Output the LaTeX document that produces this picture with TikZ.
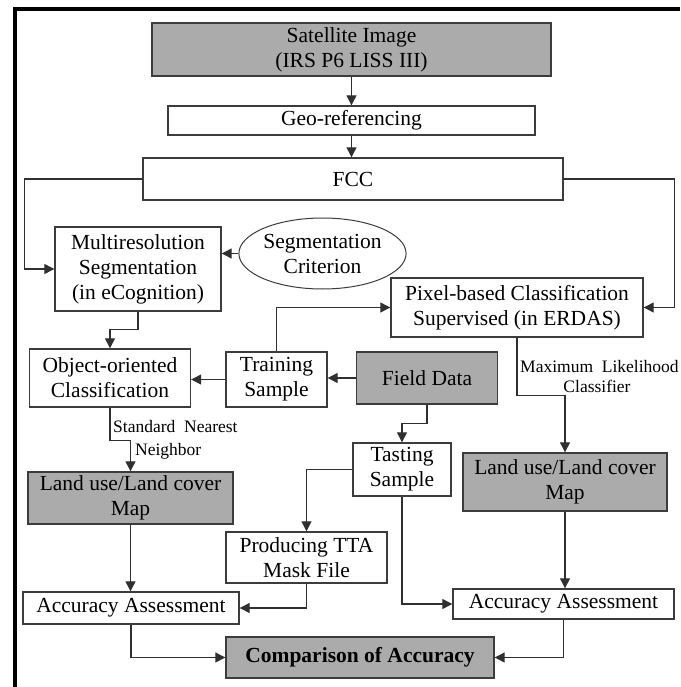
\documentclass[tikz,border=0pt]{standalone}
\usepackage{fontspec}
\setmainfont{Liberation Serif}
\usetikzlibrary{arrows.meta,shapes.geometric}
\definecolor{boxline}{HTML}{3C3C3C}
\definecolor{boxfill}{HTML}{ABABAB}
\definecolor{lineclr}{HTML}{303030}
\begin{document}
\begin{tikzpicture}[x=1pt,y=-1pt,
 box/.style={draw=boxline, line width=1.4pt, rectangle, inner sep=0pt, align=center, font=\fontsize{21.5}{25}\selectfont},
 gbox/.style={box, fill=boxfill},
 conn/.style={draw=lineclr, line width=1.2pt},
 arr/.style={conn, -{Triangle[length=10pt,width=10pt]}},
 lab/.style={font=\fontsize{17.5}{20}\selectfont, inner sep=0pt}]
\useasboundingbox[fill=white] (0,0) rectangle (680,687);
\draw[line width=4pt] (15,687) -- (15,9) -- (680,9);

\node[gbox, minimum width=399pt, minimum height=53pt] (sat) at (351.5,49.5) {Satellite Image\\(IRS P6 LISS III)};
\node[box, minimum width=367pt, minimum height=29pt] (geo) at (351.5,120.5) {Geo-referencing};
\node[box, minimum width=420pt, minimum height=42pt] (fcc) at (353,179) {FCC};
\node[box, minimum width=166pt, minimum height=84pt] (multi) at (138,269) {Multiresolution\\Segmentation\\(in eCognition)};
\node[draw=boxline, line width=1pt, ellipse, inner sep=0pt, minimum width=157pt, minimum height=71pt, align=center, font=\fontsize{21.5}{25}\selectfont] (crit) at (322.5,253.5) {Segmentation\\Criterion};
\node[box, minimum width=252pt, minimum height=59pt] (pixel) at (517,307.5) {Pixel-based Classification\\Supervised (in ERDAS)};
\node[box, minimum width=161pt, minimum height=58pt] (obj) at (110,378) {Object-oriented\\Classification};
\node[box, minimum width=101pt, minimum height=55pt] (train) at (276.5,379.5) {Training\\Sample};
\node[gbox, minimum width=141pt, minimum height=52pt] (field) at (427,378) {Field Data};
\node[box, minimum width=98pt, minimum height=53pt] (tast) at (402,469.5) {Tasting\\Sample};
\node[gbox, minimum width=205pt, minimum height=52pt] (lulc1) at (130.5,498) {Land use/Land cover\\Map};
\node[gbox, minimum width=204pt, minimum height=58pt] (lulc2) at (565,482) {Land use/Land cover\\Map};
\node[box, minimum width=161pt, minimum height=51pt] (tta) at (306.5,557.5) {Producing TTA\\Mask File};
\node[box, minimum width=216pt, minimum height=32pt] (acc1) at (131,608) {Accuracy Assessment};
\node[box, minimum width=221pt, minimum height=30pt] (acc2) at (563.5,604) {Accuracy Assessment};
\node[gbox, minimum width=268pt, minimum height=41pt, font=\fontsize{21.5}{25}\selectfont\bfseries] (comp) at (360,657.5) {Comparison of Accuracy};

\node[lab, anchor=base west] (sn1) at (113,432) {Standard\ \ Nearest};
\node[lab, anchor=base west] (sn2) at (135,455) {Neighbor};
\node[lab, anchor=base west] (ml1) at (520,372) {Maximum\ \ Likelihood};
\node[lab, anchor=base] (ml2) at (597,392) {Classifier};

\draw[arr] (sat.south) -- (sat.south |- geo.north);
\draw[arr] (geo.south) -- (geo.south |- fcc.north);
\draw[arr] (fcc.west) -- ++(-118,0) |- (multi.west);
\draw[arr] (fcc.east) -- ++(111,0) |- (pixel.east);
\draw[arr] (crit.west) -- (crit.west -| multi.east);
\draw[arr] (multi.south) -- ++(0,18) -| (obj.north);
\draw[arr] (train.west) -- (train.west -| obj.east);
\draw[arr] (field.west) -- (field.west -| train.east);
\draw[arr] (train.north) |- (pixel.west);
\draw[arr] (pixel.south) -- ++(0,58) -| (lulc2.north);
\draw[arr] (field.south) -- ++(0,19) -| (tast.north);
\draw[arr] (obj.south) -- ++(0,33) -| (lulc1.north);
\draw[arr] (tast.west) -| (tta.north);
\draw[arr] (tta.south) |- (acc1.east);
\draw[arr] (tast.south) |- (acc2.west);
\draw[arr] (lulc1.south) -- (lulc1.south |- acc1.north);
\draw[arr] (lulc2.south) -- (lulc2.south |- acc2.north);
\draw[arr] (acc1.south) |- (comp.west);
\draw[arr] (acc2.south) |- (comp.east);
\end{tikzpicture}
\end{document}
